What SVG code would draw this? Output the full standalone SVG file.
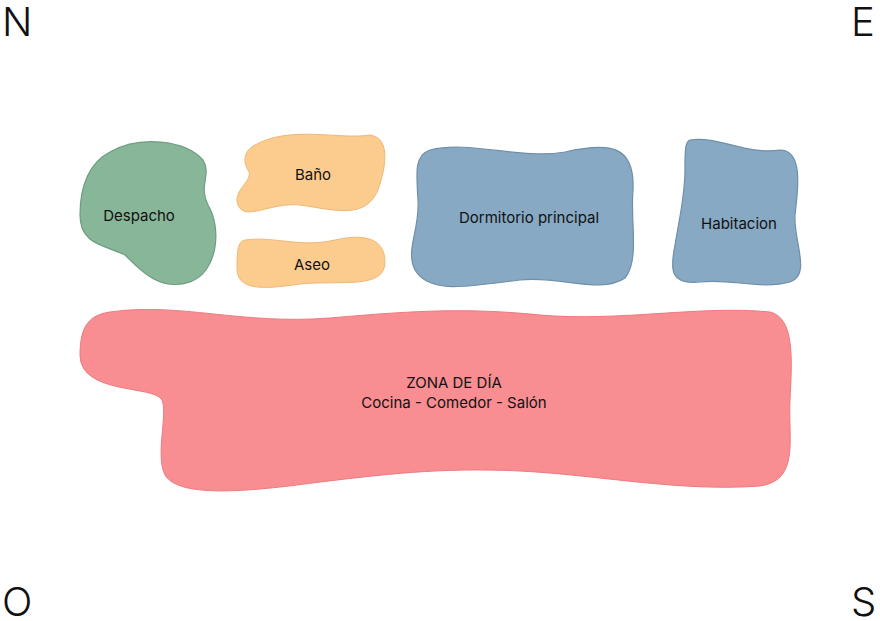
<svg xmlns="http://www.w3.org/2000/svg" width="880" height="621" viewBox="0 0 880 621">
<style>
.l{font-family:Inter,"Noto Sans",sans-serif;font-size:15px;fill:#111;text-anchor:middle}
.c{font-family:Inter,"Noto Sans",sans-serif;font-size:40px;font-weight:300;fill:#111}
.g{fill:#88b698;stroke:#6e9c80;stroke-width:1.2}
.o{fill:#fccb8e;stroke:#f0b878;stroke-width:1}
.b{fill:#87a9c3;stroke:#6f8fa9;stroke-width:1.2}
.r{fill:#f88e92;stroke:#ee7a80;stroke-width:1}
</style>
<rect width="880" height="621" fill="#fff"/>
<text class="c" x="2" y="36">N</text>
<text class="c" x="851" y="36">E</text>
<text class="c" x="2" y="616">O</text>
<text class="c" x="851" y="616">S</text>
<g id="despacho"><path class="g" d="M110,152 C140,135 185,140 203,160 C212,175 198,185 208,205 C222,228 218,272 190,282 C160,292 140,270 125,255 C105,245 80,245 80,215 C80,185 90,162 110,152 Z"/><text class="l" x="139" y="221">Despacho</text></g>
<g id="bano"><path class="o" d="M255,145 C290,125 340,140 370,135 C392,138 385,170 378,190 C365,220 335,210 300,205 C270,202 245,222 238,205 C232,190 255,180 248,170 C242,160 245,150 255,145 Z"/><text class="l" x="313" y="180">Baño</text></g>
<g id="aseo"><path class="o" d="M245,240 C275,236 300,248 335,240 C370,232 385,242 385,262 C385,290 340,280 300,284 C260,290 237,290 237,268 C237,250 238,241 245,240 Z"/><text class="l" x="312" y="270">Aseo</text></g>
<g id="dormitorio"><path class="b" d="M430,150 C470,140 520,160 565,152 C610,142 635,145 633,190 C630,220 640,260 625,278 C600,295 560,275 520,280 C470,286 430,295 415,270 C405,250 420,230 418,200 C416,170 415,155 430,150 Z"/><text class="l" x="529" y="223">Dormitorio principal</text></g>
<g id="habitacion"><path class="b" d="M690,140 C720,136 745,155 780,150 C805,150 797,195 795,215 C793,240 812,275 790,282 C760,290 730,278 700,282 C670,285 670,270 675,245 C680,215 685,195 685,170 C685,150 685,142 690,140 Z"/><text class="l" x="739" y="229">Habitacion</text></g>
<g id="zona"><path class="r" d="M110,312 C180,302 240,325 330,318 C420,310 470,308 540,315 C620,322 700,305 770,312 C795,318 792,360 790,400 C788,440 800,480 760,486 C680,492 600,475 520,471 C440,467 380,475 320,482 C260,490 180,500 165,475 C155,455 168,415 162,400 C155,385 80,395 80,355 C80,325 90,315 110,312 Z"/><text class="l" x="454" y="388">ZONA DE DÍA</text><text class="l" x="454" y="408">Cocina - Comedor - Salón</text></g>
<g id="connectors"/>
</svg>
